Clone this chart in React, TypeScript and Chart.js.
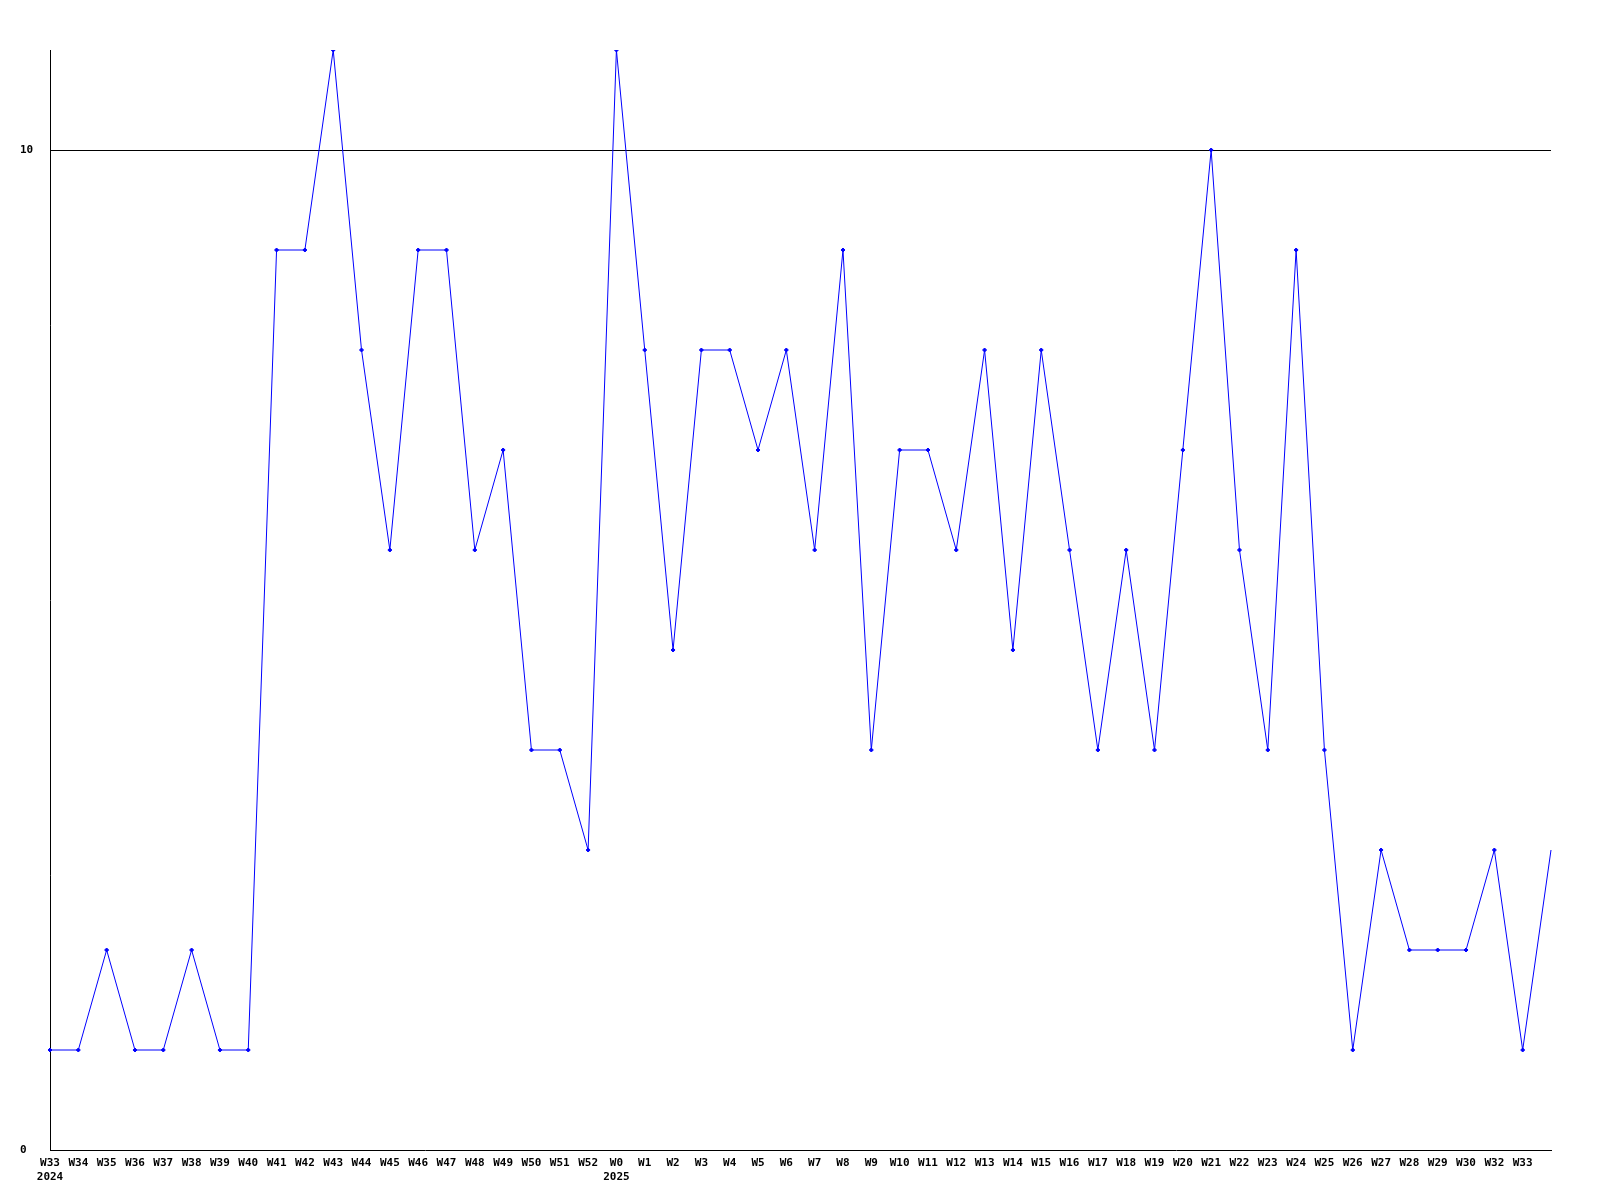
import React, { useEffect, useRef } from "react";
import { Chart, registerables } from "chart.js";

Chart.register(...registerables);

const weekLabels = [
  "W33", "W34", "W35", "W36", "W37", "W38", "W39", "W40", "W41", "W42",
  "W43", "W44", "W45", "W46", "W47", "W48", "W49", "W50", "W51", "W52",
  "W0", "W1", "W2", "W3", "W4", "W5", "W6", "W7", "W8", "W9",
  "W10", "W11", "W12", "W13", "W14", "W15", "W16", "W17", "W18", "W19",
  "W20", "W21", "W22", "W23", "W24", "W25", "W26", "W27", "W28", "W29",
  "W30", "W32", "W33", "",
];

const yearLabels: Record<number, string> = { 0: "2024", 20: "2025" };

const values = [
  1, 1, 2, 1, 1, 2, 1, 1, 9, 9,
  11, 8, 6, 9, 9, 6, 7, 4, 4, 3,
  11, 8, 5, 8, 8, 7, 8, 6, 9, 4,
  7, 7, 6, 8, 5, 8, 6, 4, 6, 4,
  7, 10, 6, 4, 9, 4, 1, 3, 2, 2,
  2, 3, 1, 3,
];

const yTicks = [0, 10];

export default function App() {
  const ref = useRef<HTMLCanvasElement | null>(null);
  useEffect(() => {
    if (!ref.current) return;
    const labels = weekLabels.map((w, i) => (yearLabels[i] ? [w, yearLabels[i]] : w));
    const font = { family: "'DejaVu Sans Mono', monospace", size: 11, weight: "bold" as const };
    const chart = new Chart(ref.current, {
      type: "line",
      data: {
        labels,
        datasets: [
          {
            data: values,
            borderColor: "#0000ff",
            backgroundColor: "#0000ff",
            borderWidth: 1,
            tension: 0,
            pointStyle: "rectRot",
            pointRadius: values.map((_, i) => (i === values.length - 1 ? 0 : 2)),
            pointBorderWidth: 1,
            fill: false,
          },
        ],
      },
      options: {
        animation: false,
        responsive: false,
        maintainAspectRatio: false,
        layout: { padding: { top: 50, right: 49, left: 20, bottom: 0 } },
        plugins: { legend: { display: false }, tooltip: { enabled: false } },
        scales: {
          x: {
            type: "category",
            offset: false,
            grid: { display: false, drawTicks: false },
            border: { display: true, color: "#000", width: 1 },
            ticks: {
              autoSkip: false,
              maxRotation: 0,
              minRotation: 0,
              color: "#000",
              font,
              padding: 7,
            },
            afterFit: (s: any) => {
              s.height = 50;
            },
          },
          y: {
            min: 0,
            max: 11,
            afterBuildTicks: (s: any) => {
              s.ticks = yTicks.map((v) => ({ value: v }));
            },
            grid: {
              color: (ctx: any) => (ctx.tick && ctx.tick.value === 10 ? "#000" : "rgba(0,0,0,0)"),
              drawTicks: false,
              lineWidth: 1,
            },
            border: { display: true, color: "#000", width: 1 },
            ticks: { color: "#000", font, padding: 10, crossAlign: "far" },
            afterFit: (s: any) => {
              s.width = 30;
            },
          },
        },
      },
    });
    return () => chart.destroy();
  }, []);
  return (
    <div style={{ position: "absolute", left: 0, top: 0, width: 1600, height: 1200, background: "#fff" }}>
      <canvas ref={ref} width={1600} height={1200} style={{ width: 1600, height: 1200 }} />
    </div>
  );
}
